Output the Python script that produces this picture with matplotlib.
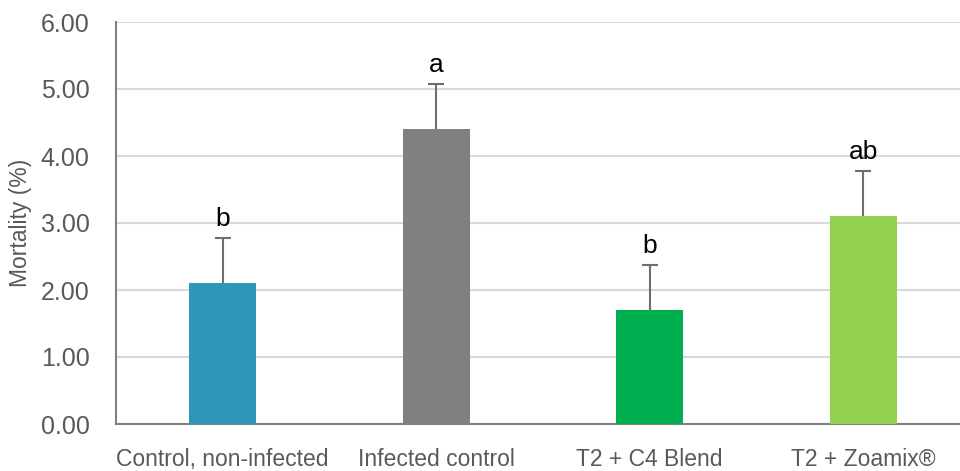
import matplotlib
matplotlib.use("Agg")
import matplotlib.pyplot as plt

categories = ["Control, non-infected", "Infected control", "T2 + C4 Blend", "T2 + Zoamix®"]
mortality = [2.10, 4.40, 1.70, 3.10]
errors = [0.67, 0.67, 0.67, 0.68]
letters = ["b", "a", "b", "ab"]
colors = ["#2E96B8", "#808080", "#00B050", "#92D050"]
yticks = [0, 1, 2, 3, 4, 5, 6]

plt.rcParams['font.family'] = ['Liberation Sans Narrow', 'Liberation Sans', 'DejaVu Sans']

fig = plt.figure(figsize=(9.6, 4.71), dpi=100)
ax = fig.add_axes([116/960, 47/471, 854/960, 402/471])

x = list(range(len(categories)))
tops = [m + e for m, e in zip(mortality, errors)]
ax.bar(x, mortality, width=0.314, color=colors, zorder=3)
ax.vlines(x, mortality, tops, color='#6E6E6E', linewidth=1.5, zorder=4)
ax.plot(x, tops, linestyle='none', marker='_', markersize=11, markeredgewidth=1.5,
        color='#6E6E6E', zorder=4)
for xi, t, l in zip(x, tops, letters):
    ax.annotate(l, (xi, t), xytext=(0, 5), textcoords='offset points',
                ha='center', va='bottom', fontsize=19, color='black')

ax.set_xlim(-0.5, 3.5)
ax.set_ylim(0, 6)
ax.set_yticks(yticks)
ax.set_yticklabels([f"{v:.2f}" for v in yticks])
ax.set_xticks(x)
ax.set_xticklabels(categories)
ax.tick_params(axis='both', length=0, colors='#595959')
ax.tick_params(axis='y', pad=19, labelsize=18)
ax.tick_params(axis='x', pad=17, labelsize=16.5)
ax.yaxis.grid(True, color='#D9D9D9', linewidth=1.5, zorder=0)
ax.set_axisbelow(True)
for s in ['top', 'right']:
    ax.spines[s].set_visible(False)
for s in ['left', 'bottom']:
    ax.spines[s].set_color('#808080')
    ax.spines[s].set_linewidth(1.5)
ax.set_ylabel("Mortality (%)", fontsize=16.5, color='#595959', labelpad=6)

fig.savefig("out.png", dpi=100)
